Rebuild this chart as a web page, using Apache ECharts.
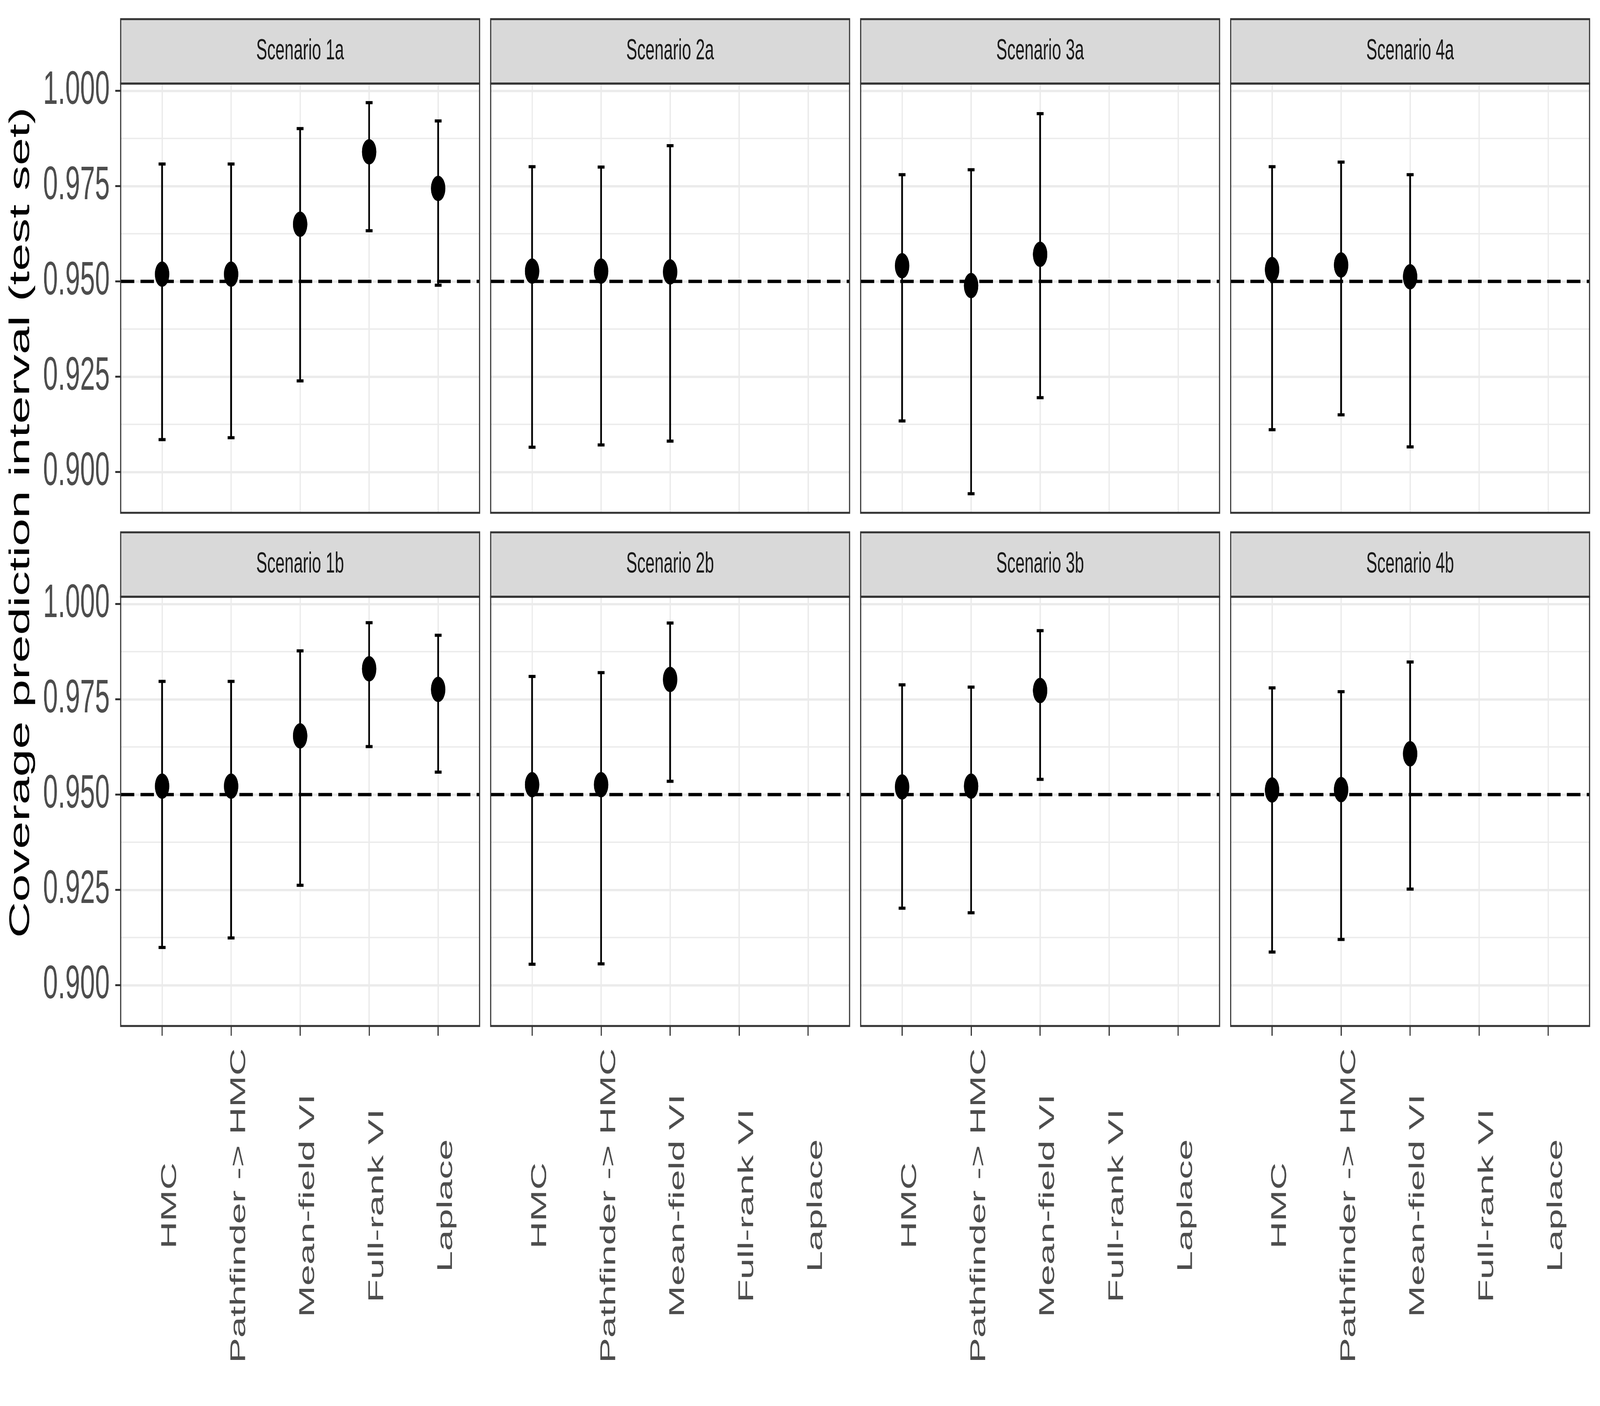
<!DOCTYPE html>
<html>
<head>
<meta charset="utf-8">
<script src="https://cdn.jsdelivr.net/npm/echarts@6/dist/echarts.min.js"></script>
<style>
html, body { margin: 0; padding: 0; background: #ffffff; overflow: hidden; }
#c { position: absolute; left: 0; top: 0; width: 7200px; height: 3600px; transform-origin: 0 0; }
</style>
</head>
<body>
<div id="c"></div>
<script>
// ---------------- data ----------------
const categories = ['HMC', 'Pathfinder -> HMC', 'Mean-field VI', 'Full-rank VI', 'Laplace'];
const scenarios = ['Scenario 1a', 'Scenario 2a', 'Scenario 3a', 'Scenario 4a',
                   'Scenario 1b', 'Scenario 2b', 'Scenario 3b', 'Scenario 4b'];
const yTicks = [0.900, 0.925, 0.950, 0.975, 1.000];
const yMinorTicks = [0.9125, 0.9375, 0.9625, 0.9875];
const xTickPositions = [1, 2, 3, 4, 5];
const nominalCoverage = 0.95;

const est_1a = [0.9519, 0.9519, 0.9650, 0.9840, 0.9744];
const lo_1a  = [0.9085, 0.9090, 0.9239, 0.9633, 0.9490];
const hi_1a  = [0.9808, 0.9808, 0.9901, 0.9969, 0.9921];

const est_2a = [0.9527, 0.9527, 0.9525, null, null];
const lo_2a  = [0.9065, 0.9071, 0.9081, null, null];
const hi_2a  = [0.9801, 0.9800, 0.9856, null, null];

const est_3a = [0.9541, 0.9489, 0.9571, null, null];
const lo_3a  = [0.9134, 0.8943, 0.9195, null, null];
const hi_3a  = [0.9780, 0.9793, 0.9940, null, null];

const est_4a = [0.9531, 0.9543, 0.9512, null, null];
const lo_4a  = [0.9111, 0.9150, 0.9066, null, null];
const hi_4a  = [0.9801, 0.9813, 0.9780, null, null];

const est_1b = [0.9522, 0.9522, 0.9654, 0.9830, 0.9776];
const lo_1b  = [0.9099, 0.9124, 0.9262, 0.9626, 0.9559];
const hi_1b  = [0.9797, 0.9797, 0.9877, 0.9951, 0.9918];

const est_2b = [0.9526, 0.9526, 0.9802, null, null];
const lo_2b  = [0.9055, 0.9056, 0.9535, null, null];
const hi_2b  = [0.9810, 0.9820, 0.9950, null, null];

const est_3b = [0.9520, 0.9522, 0.9773, null, null];
const lo_3b  = [0.9202, 0.9190, 0.9540, null, null];
const hi_3b  = [0.9788, 0.9782, 0.9930, null, null];

const est_4b = [0.9512, 0.9513, 0.9607, null, null];
const lo_4b  = [0.9087, 0.9120, 0.9252, null, null];
const hi_4b  = [0.9780, 0.9770, 0.9848, null, null];

// ---------------- layout / style (designed on a 7200 x 3600 page) ----------------
const W = 7200, H = 3600;
const FONT = "'Liberation Sans', Arial, Helvetica, sans-serif";
const colLeft = [543, 2208, 3873, 5538];
const panelW = 1615;
const rowTop = [214, 1528];
const panelH = 1099;
const stripH = 165;
const Y_MIN = 0.8893, Y_MAX = 1.0019;
const X_MIN = 0.4, X_MAX = 5.6;
const CAP_HALF = 0.05;

// fit the 7200x3600 design into whatever window the page gets
const el = document.getElementById('c');
function fit() {
  const sx = window.innerWidth / W, sy = window.innerHeight / H;
  el.style.transform = 'scale(' + sx + ',' + sy + ')';
}
fit();

const panels = [
  { name: scenarios[0], est: est_1a, lo: lo_1a, hi: hi_1a },
  { name: scenarios[1], est: est_2a, lo: lo_2a, hi: hi_2a },
  { name: scenarios[2], est: est_3a, lo: lo_3a, hi: hi_3a },
  { name: scenarios[3], est: est_4a, lo: lo_4a, hi: hi_4a },
  { name: scenarios[4], est: est_1b, lo: lo_1b, hi: hi_1b },
  { name: scenarios[5], est: est_2b, lo: lo_2b, hi: hi_2b },
  { name: scenarios[6], est: est_3b, lo: lo_3b, hi: hi_3b },
  { name: scenarios[7], est: est_4b, lo: lo_4b, hi: hi_4b }
];

const grids = [], xAxes = [], yAxes = [], series = [], graphics = [];

panels.forEach((p, i) => {
  const r = Math.floor(i / 4), c = i % 4;
  grids.push({
    left: colLeft[c], top: rowTop[r], width: panelW, height: panelH,
    show: true, backgroundColor: '#ffffff', borderWidth: 0, containLabel: false
  });
  xAxes.push({
    gridIndex: i, type: 'value', min: X_MIN, max: X_MAX,
    axisLine: { show: false },
    axisTick: { show: r === 1, customValues: xTickPositions, length: 25,
                lineStyle: { color: '#333333', width: 5 } },
    axisLabel: { show: r === 1, customValues: xTickPositions,
                 formatter: v => categories[Math.round(v) - 1],
                 rotate: 90, align: 'center', verticalAlign: 'top', lineHeight: 72,
                 margin: 460, hideOverlap: false,
                 fontSize: 97, color: '#4D4D4D', fontFamily: FONT },
    splitLine: { show: true, lineStyle: { color: '#EBEBEB', width: 6 } }
  });
  yAxes.push({
    gridIndex: i, type: 'value', min: Y_MIN, max: Y_MAX,
    axisLine: { show: false },
    axisTick: { show: c === 0, customValues: yTicks, length: 24,
                lineStyle: { color: '#333333', width: 5 } },
    axisLabel: { show: c === 0, customValues: yTicks,
                 formatter: v => v.toFixed(3), margin: 49, hideOverlap: false,
                 fontSize: 120, color: '#4D4D4D', fontFamily: FONT },
    splitLine: { show: true, lineStyle: { color: '#EBEBEB', width: 6 } }
  });

  // minor horizontal grid lines
  series.push({
    type: 'custom', xAxisIndex: i, yAxisIndex: i, z: 1, silent: true,
    data: yMinorTicks.map(v => [1, v]),
    encode: { x: 0, y: 1 },
    renderItem: (params, api) => {
      const cs = params.coordSys;
      const y = api.coord([1, api.value(1)])[1];
      return { type: 'line', shape: { x1: cs.x, y1: y, x2: cs.x + cs.width, y2: y },
               style: { stroke: '#EBEBEB', lineWidth: 3.5 } };
    }
  });

  // error bars
  const barData = [];
  p.est.forEach((v, k) => { if (v !== null) barData.push([k + 1, p.lo[k], p.hi[k]]); });
  series.push({
    type: 'custom', xAxisIndex: i, yAxisIndex: i, z: 3, silent: true,
    data: barData,
    encode: { x: 0, y: [1, 2] },
    renderItem: (params, api) => {
      const x = api.value(0), lo = api.value(1), hi = api.value(2);
      const a = api.coord([x, lo]), b = api.coord([x, hi]);
      const l1 = api.coord([x - CAP_HALF, hi]), r1 = api.coord([x + CAP_HALF, hi]);
      const l2 = api.coord([x - CAP_HALF, lo]), r2 = api.coord([x + CAP_HALF, lo]);
      const style = { stroke: '#000000', lineWidth: 8, lineCap: 'butt' };
      return { type: 'group', children: [
        { type: 'line', shape: { x1: a[0], y1: a[1], x2: b[0], y2: b[1] }, style },
        { type: 'line', shape: { x1: l1[0], y1: l1[1], x2: r1[0], y2: r1[1] }, style },
        { type: 'line', shape: { x1: l2[0], y1: l2[1], x2: r2[0], y2: r2[1] }, style }
      ]};
    },
    markLine: {
      silent: true, symbol: ['none', 'none'], label: { show: false },
      lineStyle: { color: '#000000', width: 8.5, type: [61, 28], cap: 'butt' },
      data: [{ yAxis: nominalCoverage }],
      animation: false
    }
  });

  // points
  const ptData = [];
  p.est.forEach((v, k) => { if (v !== null) ptData.push([k + 1, v]); });
  series.push({
    type: 'scatter', xAxisIndex: i, yAxisIndex: i, z: 4, silent: true,
    data: ptData, symbol: 'circle', symbolSize: 65,
    itemStyle: { color: '#000000', opacity: 1 }
  });

  // strip + border
  const sx = colLeft[c], sy = rowTop[r] - stripH;
  graphics.push({ type: 'rect', z: 100,
    shape: { x: sx, y: sy, width: panelW, height: stripH },
    style: { fill: '#D9D9D9', stroke: '#333333', lineWidth: 5 } });
  graphics.push({ type: 'text', z: 101, x: sx + panelW / 2, y: sy + stripH / 2,
    style: { text: p.name, fontSize: 74, fontFamily: FONT, fill: '#1A1A1A',
             align: 'center', verticalAlign: 'middle' } });
  graphics.push({ type: 'rect', z: 100,
    shape: { x: sx, y: rowTop[r], width: panelW, height: panelH },
    style: { fill: null, stroke: '#333333', lineWidth: 5 } });
});

graphics.push({ type: 'text', z: 101, x: 96, y: 1338, rotation: Math.PI / 2,
  style: { text: 'Coverage prediction interval (test set)', fontSize: 128, fontFamily: FONT,
           fill: '#000000', align: 'center', verticalAlign: 'middle' } });

const chart = echarts.init(el, null,
  { renderer: 'canvas', width: W, height: H, devicePixelRatio: 1 });
chart.setOption({
  animation: false,
  backgroundColor: '#ffffff',
  grid: grids,
  xAxis: xAxes,
  yAxis: yAxes,
  series: series,
  graphic: graphics
});
window.addEventListener('resize', fit);
</script>
</body>
</html>
